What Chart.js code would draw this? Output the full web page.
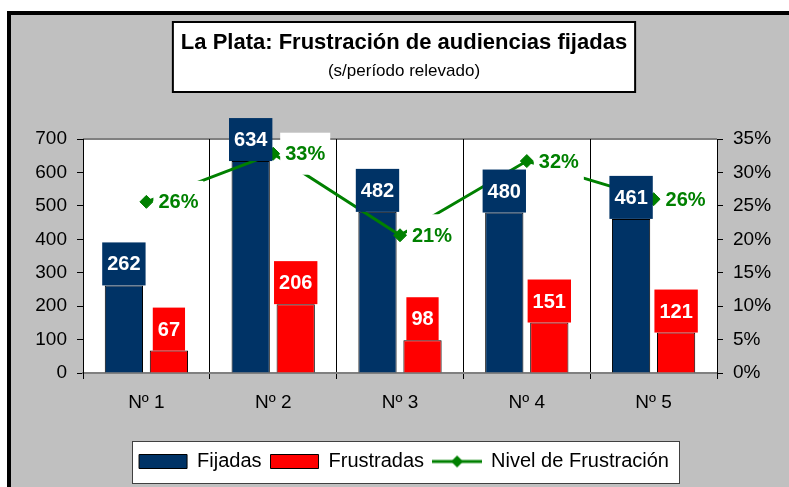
<!DOCTYPE html>
<html>
<head>
<meta charset="utf-8">
<script src="https://cdn.jsdelivr.net/npm/chart.js@4/dist/chart.umd.min.js"></script>
<style>
html,body{margin:0;padding:0;background:#fff;overflow:hidden}
canvas{display:block}
</style>
</head>
<body>
<canvas id="c" width="789" height="487"></canvas>
<script>
// ---- data ----
const categories = ['Nº 1', 'Nº 2', 'Nº 3', 'Nº 4', 'Nº 5'];
const fijadas = [262, 634, 482, 480, 461];
const frustradas = [67, 206, 98, 151, 121];
const nivelFrustracion = [25.6, 32.8, 20.6, 31.7, 26.0];
const leftTickValues = [0, 100, 200, 300, 400, 500, 600, 700];
const rightTickValues = [0, 5, 10, 15, 20, 25, 30, 35];
const titleText = 'La Plata: Frustración de audiencias fijadas';
const subtitleText = '(s/período relevado)';

// ---- styles ----
const NAVY = '#003366';
const RED = '#FF0000';
const GREEN = '#008000';
const SANS = "'Liberation Sans', Arial, sans-serif";

// legend symbol for the line series (line + diamond)
const lineLegendImg = document.createElement('canvas');
lineLegendImg.width = 50; lineLegendImg.height = 14;
(function () {
  const g = lineLegendImg.getContext('2d');
  g.strokeStyle = GREEN; g.lineWidth = 3;
  g.beginPath(); g.moveTo(0, 7); g.lineTo(50, 7); g.stroke();
  g.fillStyle = GREEN;
  g.beginPath(); g.moveTo(25, 1); g.lineTo(31, 7); g.lineTo(25, 13); g.lineTo(19, 7); g.closePath(); g.fill();
})();

const backgroundPlugin = {
  id: 'bg',
  beforeDraw(chart) {
    const ctx = chart.ctx;
    const W = chart.width, H = chart.height;
    ctx.save();
    ctx.fillStyle = '#fff'; ctx.fillRect(0, 0, W, H);
    ctx.fillStyle = '#000'; ctx.fillRect(7, 11, W, H);
    ctx.fillStyle = '#C0C0C0'; ctx.fillRect(11, 15, W, H);
    // title box
    const tb = chart.titleBlock;
    ctx.font = 'bold 22px ' + SANS;
    const tw = ctx.measureText(titleText).width;
    const cx = (tb.left + tb.right) / 2;
    const bx = cx - tw / 2 - 8, bw = tw + 16, by = tb.top + 22, bh = 70;
    ctx.fillStyle = '#fff'; ctx.fillRect(bx, by, bw, bh);
    ctx.strokeStyle = '#000'; ctx.lineWidth = 2; ctx.strokeRect(bx, by, bw, bh);
    // plot area
    const a = chart.chartArea;
    ctx.fillStyle = '#fff'; ctx.fillRect(a.left, a.top, a.right - a.left, a.bottom - a.top);
    ctx.strokeStyle = '#808080'; ctx.lineWidth = 2;
    ctx.beginPath(); ctx.moveTo(a.left, a.top); ctx.lineTo(a.right, a.top); ctx.stroke();
    // legend box
    const lg = chart.legend;
    const pad = lg.options.labels.padding;
    const lw = lg.lineWidths[0];
    const start = ((lg.left + pad) + (lg.right - lw)) / 2;
    const cy = lg.top + pad + 10;
    const lx0 = Math.round(start - 7);
    const lx1 = Math.round(start + lw - pad + 10);
    const ly0 = Math.round(cy - 20.5);
    ctx.fillStyle = '#fff'; ctx.fillRect(lx0, ly0, lx1 - lx0, 42);
    ctx.strokeStyle = '#404040'; ctx.lineWidth = 1;
    ctx.strokeRect(lx0 + 0.5, ly0 + 0.5, lx1 - lx0, 42);
    ctx.restore();
  }
};

const labelsPlugin = {
  id: 'valueLabels',
  afterDatasetsDraw(chart) {
    const ctx = chart.ctx;
    ctx.save();
    // line labels (white boxes)
    const lineMeta = chart.getDatasetMeta(2);
    ctx.font = 'bold 20px ' + SANS;
    ctx.textBaseline = 'middle';
    ctx.textAlign = 'left';
    lineMeta.data.forEach((pt, i) => {
      const txt = Math.round(chart.data.datasets[2].data[i]) + '%';
      const tw = ctx.measureText(txt).width;
      const x0 = pt.x + 7;
      ctx.fillStyle = '#fff';
      ctx.fillRect(x0, pt.y - 21, tw + 10, 42);
      ctx.fillStyle = GREEN;
      ctx.fillText(txt, x0 + 5, pt.y + 1);
    });
    // bar labels (coloured boxes above bars)
    [0, 1].forEach(di => {
      const meta = chart.getDatasetMeta(di);
      const ds = chart.data.datasets[di];
      meta.data.forEach((bar, i) => {
        const txt = String(ds.data[i]);
        const tw = ctx.measureText(txt).width;
        const w = tw + 10, h = 43;
        ctx.fillStyle = ds.backgroundColor;
        ctx.fillRect(bar.x - w / 2, bar.y - h, w, h);
        ctx.fillStyle = '#fff';
        ctx.textAlign = 'center';
        ctx.fillText(txt, bar.x, bar.y - h / 2 + 1);
      });
    });
    ctx.restore();
  }
};

const chart = new Chart(document.getElementById('c'), {
  type: 'bar',
  data: {
    labels: categories,
    datasets: [
      { label: 'Fijadas', data: fijadas, backgroundColor: NAVY, borderColor: '#000', borderWidth: 1,
        yAxisID: 'y', order: 1, categoryPercentage: 0.71, barPercentage: 0.85 },
      { label: 'Frustradas', data: frustradas, backgroundColor: RED, borderColor: '#000', borderWidth: 1,
        yAxisID: 'y', order: 2, categoryPercentage: 0.71, barPercentage: 0.85 },
      { type: 'line', label: 'Nivel de Frustración', data: nivelFrustracion, yAxisID: 'y2', order: 0,
        borderColor: GREEN, backgroundColor: GREEN, borderWidth: 3, tension: 0,
        pointStyle: 'rectRot', pointRadius: 6.5, pointBackgroundColor: GREEN, pointBorderColor: GREEN, pointBorderWidth: 1 }
    ]
  },
  options: {
    responsive: false,
    animation: false,
    devicePixelRatio: 1,
    events: [],
    layout: { padding: { left: 20, right: 1, top: 0, bottom: 5.5 } },
    plugins: {
      tooltip: { enabled: false },
      title: { display: true, text: titleText, color: '#000',
        font: { family: SANS, size: 22, weight: 'bold' }, padding: { top: 30, bottom: 0 } },
      subtitle: { display: true, text: subtitleText, color: '#000',
        font: { family: SANS, size: 17, weight: 'normal' }, padding: { top: 5, bottom: 57.2 } },
      legend: {
        position: 'bottom', align: 'center',
        labels: {
          usePointStyle: true, pointStyleWidth: 48, boxWidth: 48, boxHeight: 14, padding: 9,
          color: '#000', font: { family: SANS, size: 20 },
          sort: (a, b) => a.datasetIndex - b.datasetIndex,
          generateLabels(ch) {
            const items = Chart.defaults.plugins.legend.labels.generateLabels(ch);
            items.forEach(it => {
              if (it.datasetIndex === 2) { it.pointStyle = lineLegendImg; it.lineWidth = 0; }
              else { it.pointStyle = 'rect'; it.lineWidth = 1; it.strokeStyle = '#000'; }
            });
            return items;
          }
        }
      }
    },
    scales: {
      x: {
        offset: true,
        grid: { offset: true, color: '#000', lineWidth: 1, tickLength: 6, tickColor: '#000' },
        border: { color: '#808080', width: 2 },
        ticks: { color: '#000', font: { family: SANS, size: 19 }, padding: 12 },
        afterFit(s) { s.height = 69.5; }
      },
      y: {
        position: 'left', min: 0, max: 700,
        afterBuildTicks(s) { s.ticks = leftTickValues.map(v => ({ value: v })); },
        ticks: { color: '#000', font: { family: SANS, size: 19 }, padding: 10 },
        grid: { drawOnChartArea: false, tickLength: 6, tickColor: '#000' },
        border: { color: '#000', width: 1 },
        afterFit(s) { s.width = 63; }
      },
      y2: {
        position: 'right', min: 0, max: 35,
        afterBuildTicks(s) { s.ticks = rightTickValues.map(v => ({ value: v })); },
        ticks: { color: '#000', font: { family: SANS, size: 19 }, padding: 10, callback: v => v + '%' },
        grid: { drawOnChartArea: false, tickLength: 6, tickColor: '#000' },
        border: { color: '#000', width: 1 },
        afterFit(s) { s.width = 71; }
      }
    }
  },
  plugins: [backgroundPlugin, labelsPlugin]
});
</script>
</body>
</html>
